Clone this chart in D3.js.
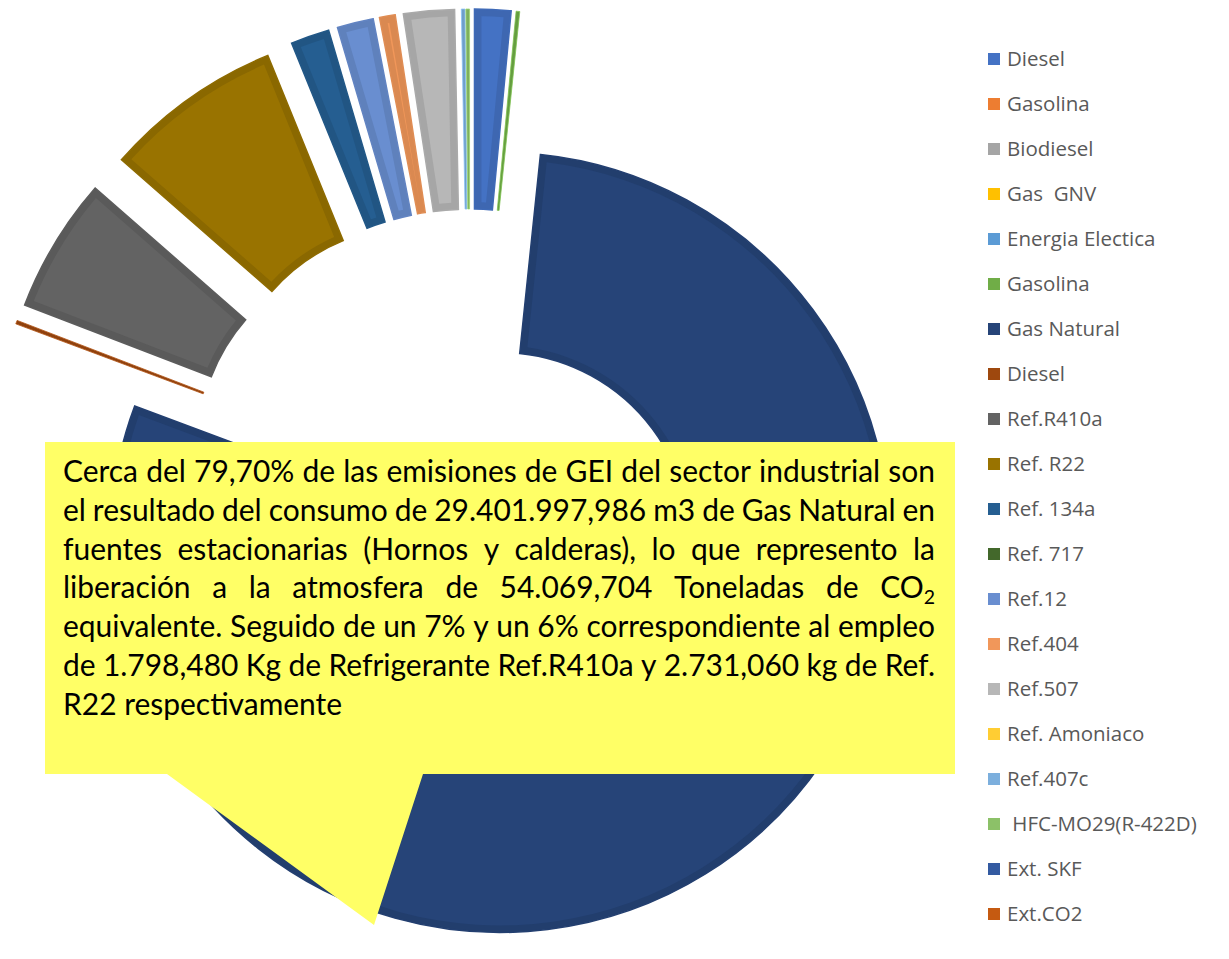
<!DOCTYPE html>
<html>
<head>
<meta charset="utf-8">
<script src="https://cdn.jsdelivr.net/npm/d3@7"></script>
<style>
  body { margin: 0; background: #fff; }
  svg { display: block; }
</style>
</head>
<body>
<svg id="chart" width="1229" height="959"></svg>
<script>
// Emisiones GEI sector industrial -- donut with exploded slices

var categories = ["Diesel", "Gasolina", "Biodiesel", "Gas  GNV", "Energia Electica",
  "Gasolina", "Gas Natural", "Diesel", "Ref.R410a", "Ref. R22", "Ref. 134a",
  "Ref. 717", "Ref.12", "Ref.404", "Ref.507", "Ref. Amoniaco", "Ref.407c",
  " HFC-MO29(R-422D)", "Ext. SKF", "Ext.CO2"];

// share of total emissions, %
var values = [1.5, 0, 0, 0, 0, 0.15, 79.0, 0.15, 5.6, 7.4, 1.6,
  0, 1.5, 0.65, 2.1, 0, 0.15, 0.15, 0, 0];

var colors = ["#4472C4", "#ED7D31", "#A5A5A5", "#FFC000", "#5B9BD5", "#70AD47",
  "#264478", "#9E480E", "#636363", "#997300", "#255E91", "#43682B",
  "#698ED0", "#F1975A", "#B7B7B7", "#FFCD33", "#7CAFDD", "#8CC168",
  "#335AA1", "#C55A11"];

var calloutLines = [
  "Cerca del 79,70% de las emisiones de GEI del sector industrial son",
  "el resultado del consumo de 29.401.997,986 m3 de Gas Natural en",
  "fuentes estacionarias (Hornos y calderas), lo que represento la",
  "liberación a la atmosfera de 54.069,704 Toneladas de CO_2",
  "equivalente. Seguido de un 7% y un 6% correspondiente al empleo",
  "de 1.798,480 Kg de Refrigerante Ref.R410a y 2.731,060 kg de Ref.",
  "R22 respectivamente"
];

var svg = d3.select("#chart");
var cx = 470, cy = 494;

var data = categories.map(function (c, i) {
  return { name: c, value: values[i], color: colors[i], idx: i };
});

var pie = d3.pie().sort(null).value(function (d) { return d.value; });

var arc = d3.arc().innerRadius(190).outerRadius(390);
var innerArc = d3.arc().innerRadius(197).outerRadius(383)
  .padRadius(290).padAngle(14 / 290);

// Gas Natural pulled out a little, everything else a lot
var explode = function (d) { return d.data.idx === 6 ? 57 : 95; };

var slices = svg.append("g")
  .attr("transform", "translate(" + cx + "," + cy + ")")
  .selectAll("g.slice")
  .data(pie(data).filter(function (d) { return d.value > 0; }))
  .join("g")
  .attr("class", "slice")
  .attr("transform", function (d) {
    var a = (d.startAngle + d.endAngle) / 2, e = explode(d);
    return "translate(" + (e * Math.sin(a)) + "," + (-e * Math.cos(a)) + ")";
  });

slices.append("path")
  .attr("d", arc)
  .attr("fill", function (d) { return d3.color(d.data.color).darker(0.28); })
  .attr("stroke", function (d) {
    return d.value < 0.5 ? d3.color(d.data.color).brighter(0.3) : d3.color(d.data.color).darker(0.2);
  })
  .attr("stroke-width", function (d) { return d.value < 0.5 ? 0.8 : 1.5; });

slices.append("path")
  .attr("d", innerArc)
  .attr("fill", function (d) { return d.data.color; });

// callout box
var callout = svg.append("g");
callout.append("path")
  .attr("d", "M45,442 L955,442 L955,774 L423,774 L374,925 L167,774 L45,774 Z")
  .attr("fill", "#FFFF66");

var family = "Lato, 'Open Sans', sans-serif";
var x0 = 63, x1 = 935, y0 = 482, lh = 38.8;
var measure = svg.append("text")
  .attr("font-family", family)
  .attr("visibility", "hidden");
var wordWidth = function (w, size) {
  measure.attr("font-size", size).text(w);
  return measure.node().getComputedTextLength();
};
var spaceWidth = function (size) {
  return wordWidth("a a", size) - wordWidth("aa", size);
};

// size the text so the first line fits with ordinary spacing
var base = 24;
var natural = wordWidth(calloutLines[0], base);
var fontSize = base * (x1 - x0 - 6) / natural;

calloutLines.forEach(function (line, li) {
  var words = line.split(" ");
  var widths = words.map(function (w) {
    if (w.indexOf("_") >= 0) {
      var p = w.split("_");
      return wordWidth(p[0], fontSize) + wordWidth(p[1], fontSize * 0.65);
    }
    return wordWidth(w, fontSize);
  });
  var total = d3.sum(widths);
  var last = li === calloutLines.length - 1;
  var gap = last ? spaceWidth(fontSize) : (x1 - x0 - total) / (words.length - 1);
  var x = x0, y = y0 + li * lh;
  words.forEach(function (w, wi) {
    var t = callout.append("text")
      .attr("x", x).attr("y", y)
      .attr("font-family", family)
      .attr("font-size", fontSize)
      .attr("fill", "#000");
    if (w.indexOf("_") >= 0) {
      var p = w.split("_");
      t.text(p[0]);
      t.append("tspan").attr("dy", 6).attr("font-size", fontSize * 0.65).text(p[1]);
    } else {
      t.text(w);
    }
    x += widths[wi] + gap;
  });
});
measure.remove();

// legend
var legend = svg.append("g")
  .selectAll("g")
  .data(data)
  .join("g")
  .attr("transform", function (d, i) { return "translate(988," + (59 + i * 45) + ")"; });

legend.append("rect")
  .attr("x", 0).attr("y", -6)
  .attr("width", 12).attr("height", 12)
  .attr("fill", function (d) { return d.color; });

legend.append("text")
  .attr("x", 19).attr("y", 7)
  .attr("font-family", "'Open Sans', sans-serif")
  .attr("font-size", 20.5)
  .attr("fill", "#595959")
  .attr("xml:space", "preserve")
  .style("white-space", "pre")
  .text(function (d) { return d.name; });
</script>
</body>
</html>
